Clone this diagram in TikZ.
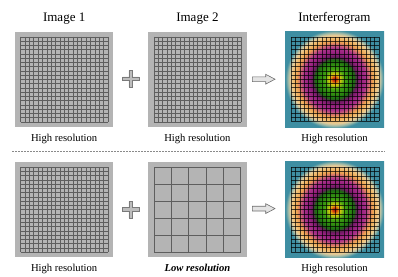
\documentclass[tikz,border=0pt]{standalone}
\usepackage{fontspec}
\setmainfont{Liberation Serif}
\usetikzlibrary{calc}
\definecolor{panelgray}{HTML}{B4B4B4}
\definecolor{gridgray}{HTML}{5E5E5E}
\definecolor{tealc}{HTML}{3E8EA2}
\definecolor{plusfill}{HTML}{BDBDBD}
\definecolor{plusline}{HTML}{7A7A7A}
\definecolor{arrfill}{HTML}{E4E4E4}
\definecolor{arrline}{HTML}{6E6E6E}
\definecolor{dashc}{HTML}{8A8A8A}
\definecolor{ia}{HTML}{B01A08}
\definecolor{ib}{HTML}{CC300A}
\definecolor{ic}{HTML}{E08010}
\definecolor{id}{HTML}{E0C810}
\definecolor{ie}{HTML}{90BA10}
\definecolor{ig}{HTML}{40A010}
\definecolor{ig2}{HTML}{2E8A10}
\definecolor{ih}{HTML}{1A6A10}
\definecolor{ii}{HTML}{6A1860}
\definecolor{ij}{HTML}{96207E}
\definecolor{ik}{HTML}{A8308A}
\definecolor{il}{HTML}{D06A70}
\definecolor{im}{HTML}{ECA050}
\definecolor{in}{HTML}{F2BC6C}
\definecolor{io}{HTML}{E8CC98}
\definecolor{ip}{HTML}{9AB8A8}
\pgfdeclareradialshading{interf}{\pgfpoint{0bp}{0bp}}{%
color(0bp)=(ia); color(1.7bp)=(ib); color(3.5bp)=(ic); color(5.2bp)=(id);
color(7.5bp)=(ie); color(10.3bp)=(ig); color(15bp)=(ig2); color(19.5bp)=(ih);
color(22.4bp)=(ii); color(26.4bp)=(ij); color(31bp)=(ik); color(34.5bp)=(il);
color(37.5bp)=(im); color(41bp)=(in); color(44bp)=(io); color(46.5bp)=(ip);
color(49bp)=(tealc); color(72bp)=(tealc)}
% grid: left top width height n style
\newcommand\panelgrid[6]{%
  \foreach \k in {0,...,#5}{%
    \draw[#6] ({#1+\k*#3/#5},#2) -- ({#1+\k*#3/#5},{#2+#4});
    \draw[#6] (#1,{#2+\k*#4/#5}) -- ({#1+#3},{#2+\k*#4/#5});
  }}
\newcommand\interfpanel[1]{%
  \begin{scope}
    \clip (#1.north west) rectangle (#1.south east);
    \path (#1.center) node[inner sep=0pt,outer sep=0pt] {\pgfuseshading{interf}};
  \end{scope}}
\begin{document}
\begin{tikzpicture}[x=1pt,y=-1pt,
  panel/.style={rectangle,inner sep=0pt,outer sep=0pt,minimum width=98.3pt,minimum height=95pt,fill=panelgray},
  ipanel/.style={rectangle,inner sep=0pt,outer sep=0pt,minimum width=99pt,minimum height=95.6pt,fill=tealc},
  fine/.style={draw=gridgray,line width=0.35pt},
  coarse/.style={draw=gridgray,line width=0.5pt},
  igrid/.style={draw=black,line width=0.35pt,opacity=0.7},
  title/.style={anchor=base,inner sep=0pt,font=\fontsize{13}{15}\selectfont},
  lab/.style={anchor=base,inner sep=0pt,font=\fontsize{10.6}{12}\selectfont},
  plusshape/.style={fill=plusfill,draw=plusline,line width=0.5pt},
  arrshape/.style={fill=arrfill,draw=arrline,line width=0.6pt,line join=miter},
  sep/.style={draw=dashc,line width=0.5pt,dash pattern=on 1.8pt off 1.2pt}]
\useasboundingbox (0,0) rectangle (398,276);
% top row
\node[panel] (p1a) at (64.15,79.1) {};
\node[panel] (p2a) at (197.4,79.1) {};
\node[ipanel] (p3a) at (334.5,79.2) {};
\interfpanel{p3a}
% bottom row
\node[panel] (p1b) at (64.15,209.5) {};
\node[panel] (p2b) at (197.4,209.5) {};
\node[ipanel] (p3b) at (334.5,209.6) {};
\interfpanel{p3b}
% grids
\panelgrid{20.5}{36.7}{87.3}{85}{20}{fine}
\panelgrid{153.8}{36.7}{87.3}{85}{20}{fine}
\panelgrid{291}{37}{88}{84.3}{20}{igrid}
\panelgrid{20.5}{167.1}{87.3}{85}{20}{fine}
\panelgrid{154}{167.3}{86.7}{85}{5}{coarse}
\panelgrid{291}{167.4}{88}{84.3}{20}{igrid}
% titles
\node[title] (t1) at (64.15,21.7) {Image 1};
\node[title] (t2) at (197.4,21.7) {Image 2};
\node[title] (t3) at (334.5,21.7) {Interferogram};
% labels
\node[lab] (l1a) at (64.15,141.5) {High resolution};
\node[lab] (l2a) at (197.4,141.5) {High resolution};
\node[lab] (l3a) at (334.5,141.5) {High resolution};
\node[lab] (l1b) at (64.15,271.7) {High resolution};
\node[lab] (l2b) at (197.4,271.7) {\textbf{\textit{Low resolution}}};
\node[lab] (l3b) at (334.5,271.7) {High resolution};
% separator
\coordinate (sl) at (12,151);
\coordinate (sr) at (385,151);
\draw[sep] (sl) -- (sr);
% plus signs
\foreach \cy/\nm in {78.7/pa,209.6/pb}{
  \coordinate (\nm) at (130.7,\cy);
  \path[plusshape] ($(\nm)+(-1.9,-8.2)$) -- ++(3.8,0) -- ++(0,6.3) -- ++(6.3,0) -- ++(0,3.8)
    -- ++(-6.3,0) -- ++(0,6.3) -- ++(-3.8,0) -- ++(0,-6.3) -- ++(-6.3,0) -- ++(0,-3.8)
    -- ++(6.3,0) -- cycle;
}
% arrows
\foreach \cy/\nm in {79.2/aa,208.6/ab}{
  \coordinate (\nm) at (252.3,\cy);
  \path[arrshape] ($(\nm)+(0,-2.4)$) -- ++(13.4,0) -- ++(0,-2.5) -- ++(9.3,4.9)
    -- ++(-9.3,4.9) -- ++(0,-2.5) -- ++(-13.4,0) -- cycle;
}
\end{tikzpicture}
\end{document}
